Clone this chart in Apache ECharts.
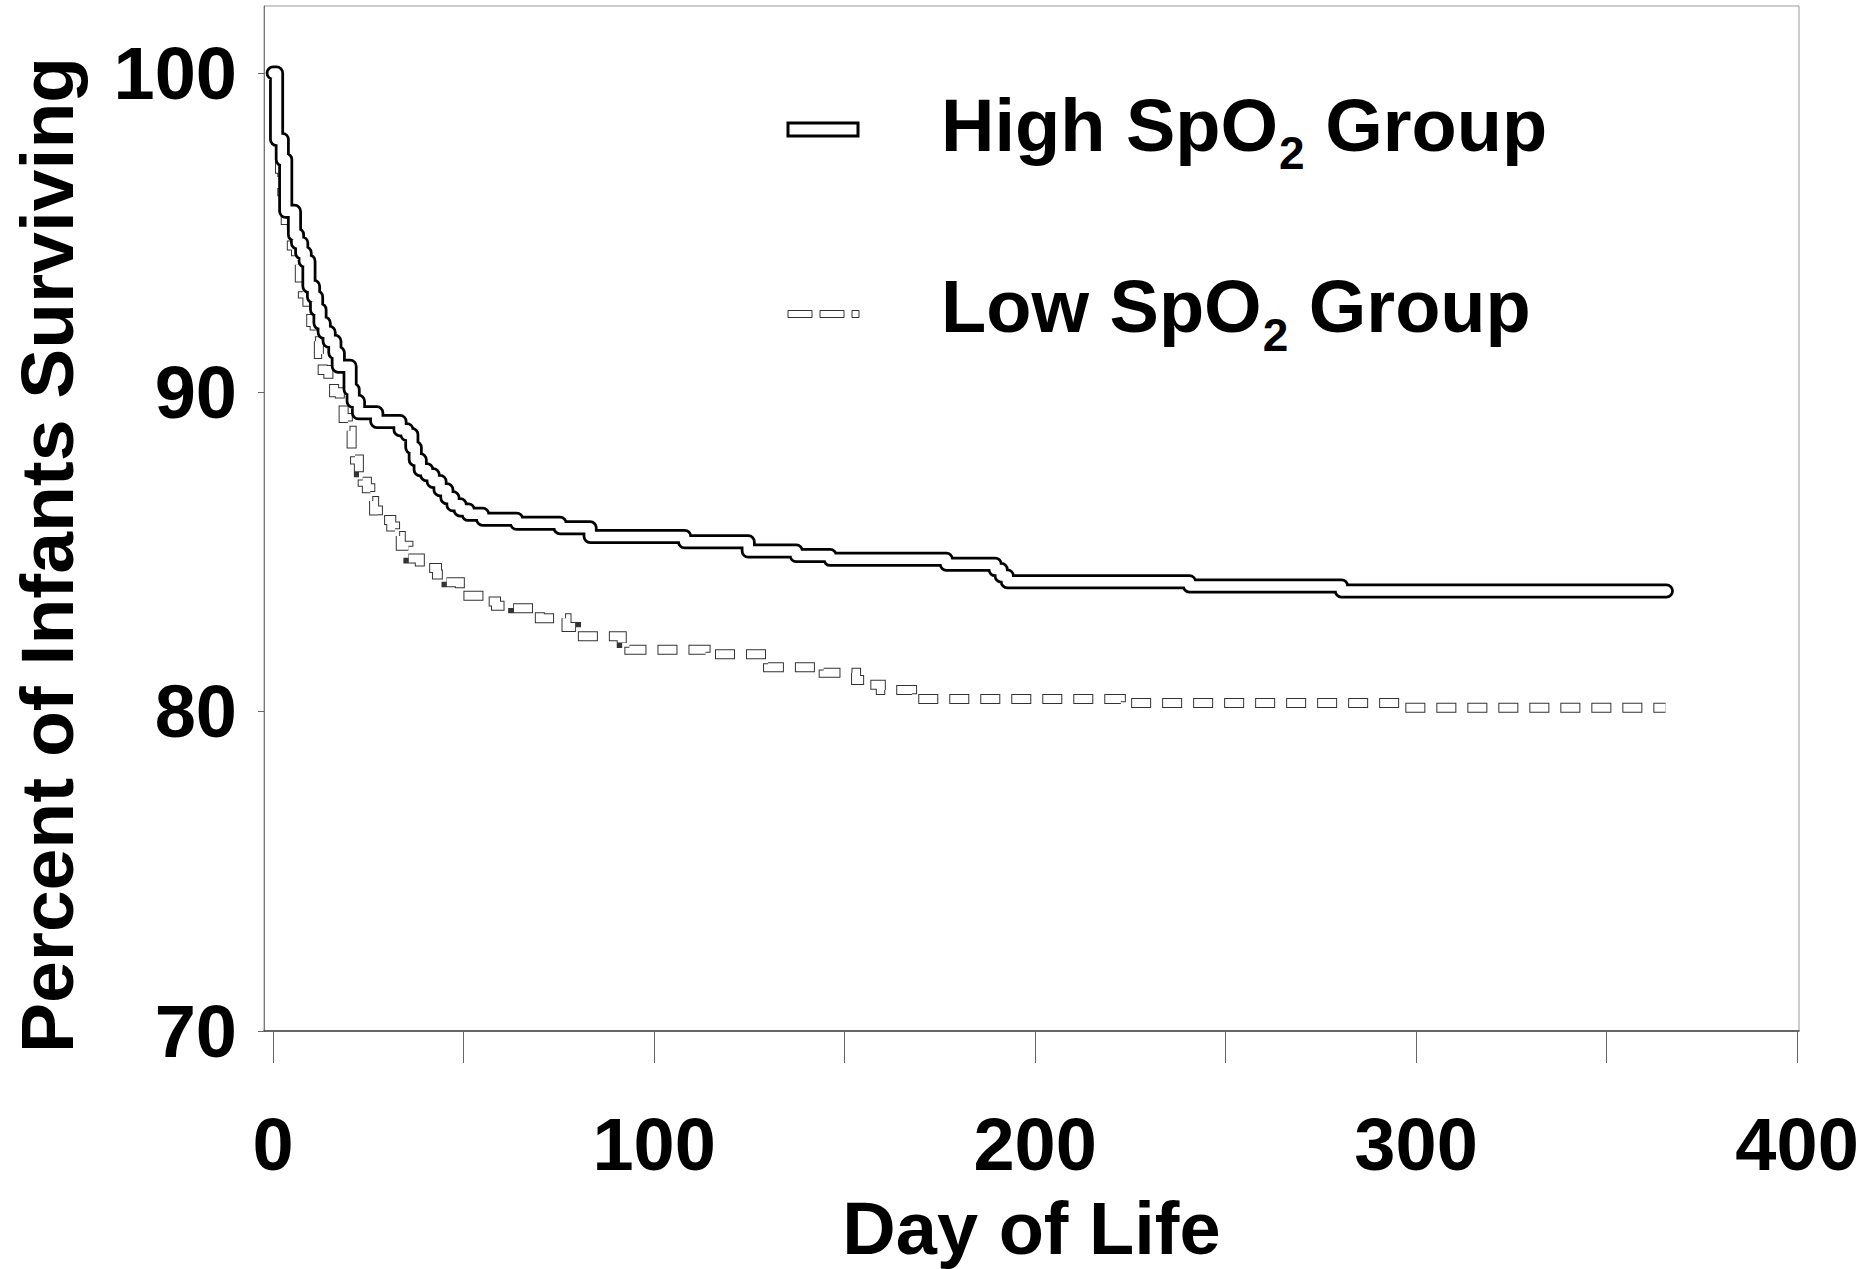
<!DOCTYPE html>
<html>
<head>
<meta charset="utf-8">
<script src="https://cdn.jsdelivr.net/npm/echarts@6/dist/echarts.min.js"></script>
<style>
html,body{margin:0;padding:0;background:#fff;}
#chart{width:1862px;height:1269px;}
</style>
</head>
<body>
<div id="chart"></div>
<script>
// ---- data (Kaplan-Meier steps: day, % surviving after the step) ----
const highDays = [0, 0.9, 2.4, 3.3, 5.6, 6.4, 7.5, 8.4, 9.4, 10.6, 11.4, 12.3, 13.4, 14.7, 16.2, 17.1, 20.2, 21.0, 22.4, 27.2, 33.3, 35.1, 36.4, 37.3, 38.6, 40.3, 42.0, 43.8, 45.6, 47.2, 49.1, 51.2, 55.0, 63.9, 75.3, 83.2, 108.0, 124.7, 137.3, 146.2, 176.7, 189.5, 191.1, 192.7, 240.5, 280.4, 365.7];
const highSurvival = [100, 97.92, 97.29, 95.67, 94.94, 94.68, 94.37, 94.11, 93.32, 92.99, 92.59, 92.17, 91.88, 91.6, 91.24, 90.82, 90.09, 89.72, 89.36, 89.09, 88.83, 88.68, 88.27, 87.89, 87.58, 87.42, 87.21, 86.95, 86.70, 86.48, 86.32, 86.18, 86.03, 85.90, 85.76, 85.49, 85.32, 85.03, 84.89, 84.77, 84.62, 84.45, 84.25, 84.07, 83.94, 83.78, 83.78];
const lowDays = [0, 0.9, 1.8, 2.4, 3.3, 4.9, 6.0, 7.0, 7.8, 9.0, 10.0, 10.9, 12.0, 13.0, 14.5, 16.0, 17.5, 18.5, 19.6, 20.6, 21.5, 22.5, 23.5, 24.6, 25.5, 26.5, 27.5, 31.0, 32.0, 33.5, 35.5, 38.5, 43.0, 45.5, 49.0, 56.5, 58.5, 63.0, 70.0, 77.0, 79.5, 91.5, 93.5, 113.5, 129.9, 144.5, 153.0, 155.5, 159.5, 167.7, 169.3, 222.5, 296.4, 365.5];
const lowSurvival = [100, 97.9, 97.0, 96.3, 95.4, 94.6, 94.0, 93.6, 93.1, 92.6, 92.2, 91.6, 91.2, 90.7, 90.4, 90.0, 89.7, 89.2, 88.8, 88.2, 87.9, 87.5, 87.2, 87.0, 86.6, 86.3, 86.0, 85.8, 85.5, 85.2, 84.8, 84.5, 84.3, 84.05, 83.63, 83.45, 83.32, 83.24, 82.93, 82.65, 82.36, 82.15, 81.94, 81.80, 81.39, 81.22, 80.99, 80.84, 80.68, 80.52, 80.40, 80.27, 80.12, 80.12];

const xTickValues = [0, 50, 100, 150, 200, 250, 300, 350, 400];
const xLabelValues = [0, 100, 200, 300, 400];
const yTickValues = [70, 80, 90, 100];
const xAxisTitle = 'Day of Life';
const yAxisTitle = 'Percent of Infants Surviving';
const legendMain = ['High SpO', 'Low SpO'];
const legendSub = ['2', '2'];
const legendTail = [' Group', ' Group'];
const seriesNames = ['High SpO2 Group', 'Low SpO2 Group'];

// ---- build ----
const zip = (xs, ys) => xs.map((x, i) => [x, ys[i]]);
const highData = zip(highDays, highSurvival);
const lowData = zip(lowDays, lowSurvival);

const FONT = '"Liberation Sans", Arial, Helvetica, sans-serif';
const BIG = 74;
const SUB = 46;

const meas = document.createElement('canvas').getContext('2d');
function textW(t, size) {
  meas.font = 'bold ' + size + 'px ' + FONT;
  return meas.measureText(t).width;
}

const legendX = 941;
const legendY = [125, 306.5];
const graphics = [];
for (let i = 0; i < 2; i++) {
  const w1 = textW(legendMain[i], BIG);
  const w2 = textW(legendSub[i], SUB);
  graphics.push({type: 'text', x: legendX, y: legendY[i],
    style: {text: legendMain[i], font: 'bold ' + BIG + 'px ' + FONT, fill: '#000', align: 'left', verticalAlign: 'middle'}});
  graphics.push({type: 'text', x: legendX + w1 + 1, y: legendY[i] + 28,
    style: {text: legendSub[i], font: 'bold ' + SUB + 'px ' + FONT, fill: '#000', align: 'left', verticalAlign: 'middle'}});
  graphics.push({type: 'text', x: legendX + w1 + 1 + w2, y: legendY[i],
    style: {text: legendTail[i], font: 'bold ' + BIG + 'px ' + FONT, fill: '#000', align: 'left', verticalAlign: 'middle'}});
}
// legend symbols
graphics.push({type: 'rect', shape: {x: 788, y: 123, width: 70, height: 13},
  style: {fill: '#fff', stroke: '#000', lineWidth: 3}});
[[788, 24], [820, 24], [852, 7]].forEach(([x, w]) => {
  graphics.push({type: 'rect', shape: {x: x, y: 310.5, width: w, height: 7},
    style: {fill: '#fff', stroke: '#333', lineWidth: 1}});
});
// y-axis title
graphics.push({type: 'text', x: 47, y: 555, rotation: Math.PI / 2,
  style: {text: yAxisTitle, font: 'bold 75px ' + FONT, fill: '#000', align: 'center', verticalAlign: 'middle'}});

const chart = echarts.init(document.getElementById('chart'), null, {renderer: 'svg'});
chart.setOption({
  animation: false,
  backgroundColor: '#fff',
  grid: {
    left: 264, top: 6, width: 1535, height: 1025,
    show: true, borderColor: '#999', borderWidth: 1, backgroundColor: 'transparent',
    containLabel: false, outerBoundsMode: 'none'
  },
  xAxis: {
    type: 'value', min: -2.4, max: 400.5,
    name: xAxisTitle, nameLocation: 'middle', nameGap: 160,
    nameTextStyle: {fontSize: BIG, fontWeight: 'bold', color: '#000', fontFamily: FONT},
    axisLine: {show: true, onZero: false, lineStyle: {color: '#444', width: 1.5}},
    axisTick: {show: true, inside: false, length: 32, customValues: xTickValues, lineStyle: {color: '#666', width: 1}},
    axisLabel: {show: true, customValues: xLabelValues, margin: 76, fontSize: BIG, fontWeight: 'bold', color: '#000', fontFamily: FONT},
    splitLine: {show: false}
  },
  yAxis: {
    type: 'value', min: 70, max: 102.1,
    axisLine: {show: true, onZero: false, lineStyle: {color: '#777', width: 1}},
    axisTick: {show: true, inside: false, length: 6, customValues: yTickValues, lineStyle: {color: '#666', width: 1}},
    axisLabel: {show: true, customValues: yTickValues, margin: 27, fontSize: BIG, fontWeight: 'bold', color: '#000', fontFamily: FONT},
    splitLine: {show: false}
  },
  graphic: graphics,
  series: [
    {name: seriesNames[1], type: 'line', step: 'end', data: lowData, symbol: 'none', z: 1,
     lineStyle: {color: '#333', width: 10, type: [20, 11], cap: 'butt', join: 'miter'}},
    {name: seriesNames[1] + ' inner', type: 'line', step: 'end', data: lowData, symbol: 'none', z: 2,
     lineStyle: {color: '#fff', width: 8, type: [18, 13], dashOffset: -1, cap: 'butt', join: 'miter'}},
    {name: seriesNames[0], type: 'line', step: 'end', data: highData, symbol: 'none', z: 3,
     lineStyle: {color: '#000', width: 15, cap: 'round', join: 'round'}},
    {name: seriesNames[0] + ' inner', type: 'line', step: 'end', data: highData, symbol: 'none', z: 4,
     lineStyle: {color: '#fff', width: 9.5, cap: 'round', join: 'round'}}
  ]
});
</script>
</body>
</html>
